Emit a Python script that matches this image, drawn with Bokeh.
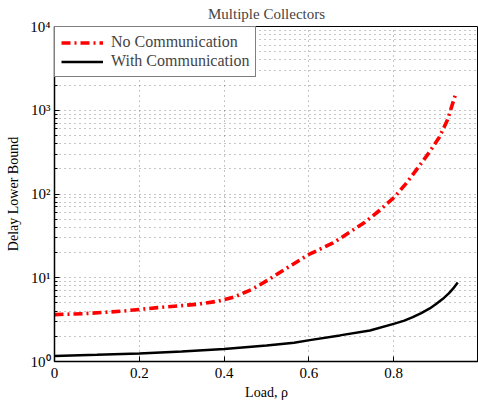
from bokeh.plotting import figure
from bokeh.models import FixedTicker, Legend, LegendItem, Range1d
from bokeh.embed import file_html
from bokeh.resources import INLINE

# data
load_nocomm = [0.0, 0.07, 0.157, 0.243, 0.337, 0.384, 0.424, 0.467, 0.502, 0.54, 0.6,
               0.657, 0.696, 0.732, 0.767, 0.802, 0.83, 0.857, 0.885, 0.908, 0.927, 0.947]
delay_nocomm = [3.63, 3.73, 3.98, 4.4, 4.82, 5.24, 5.9, 7.3, 9.3, 12.3, 19,
                26, 35, 46, 64, 92, 135, 205, 320, 480, 770, 1620]
load_comm = [0.0, 0.1, 0.2, 0.3, 0.4, 0.5, 0.565, 0.602, 0.673, 0.744, 0.802,
             0.825, 0.845, 0.865, 0.885, 0.9, 0.916, 0.93, 0.94, 0.951]
delay_comm = [1.16, 1.2, 1.25, 1.32, 1.41, 1.55, 1.67, 1.80, 2.05, 2.35, 2.83,
              3.08, 3.38, 3.78, 4.30, 4.85, 5.6, 6.5, 7.4, 8.8]
x_ticks = [0, 0.2, 0.4, 0.6, 0.8]
y_ticks = [1, 10, 100, 1000, 10000]
y_tick_labels = ["10⁰", "10¹", "10²", "10³", "10⁴"]
series_names = ["No Communication", "With Communication"]

FONT = "Liberation Serif"

p = figure(width=478, height=406, y_axis_type="log",
           x_range=Range1d(0, 1), y_range=Range1d(1, 10000),
           output_backend="svg", toolbar_location=None,
           title="Multiple Collectors",
           min_border_left=54, min_border_right=0, min_border_top=26, min_border_bottom=45)
p.title.align = "center"
p.title.vertical_align = "top"
p.title.text_font = FONT
p.title.text_font_size = "15px"
p.title.text_font_style = "normal"
p.title.offset = 0
p.title.standoff = 6

p.outline_line_color = "black"
p.outline_line_width = 1
p.background_fill_color = "white"
p.border_fill_color = "white"

minor = []
for k in range(4):
    for m in range(2, 10):
        minor.append(m * 10 ** k)

p.xaxis.ticker = FixedTicker(ticks=x_ticks)
p.yaxis.ticker = FixedTicker(ticks=y_ticks, minor_ticks=minor)
p.yaxis.major_label_overrides = {t: l for t, l in zip(y_ticks, y_tick_labels)}

for ax in (p.xaxis, p.yaxis):
    ax.axis_line_color = "black"
    ax.axis_line_width = 1.5
    ax.major_tick_in = 5
    ax.major_tick_out = 0
    ax.minor_tick_in = 3
    ax.minor_tick_out = 0
    ax.major_tick_line_color = "black"
    ax.minor_tick_line_color = "black"
    ax.major_label_text_font = FONT
    ax.major_label_text_font_size = "15px"
    ax.major_label_text_color = "black"
    ax.axis_label_text_font = FONT
    ax.axis_label_text_font_size = "14px"
    ax.axis_label_text_font_style = "normal"
    ax.axis_label_text_color = "black"
p.xaxis.minor_tick_line_color = None
p.xaxis.major_label_standoff = 6
p.yaxis.major_label_standoff = 4
p.xaxis.axis_label = "Load, ρ"
p.yaxis.axis_label = "Delay Lower Bound"
p.xaxis.axis_label_standoff = 4
p.yaxis.axis_label_standoff = 6

grid_col = "#000000"
p.xgrid.grid_line_color = grid_col
p.xgrid.grid_line_dash = "1 4"
p.xgrid.grid_line_alpha = 0.45
p.ygrid.grid_line_color = grid_col
p.ygrid.grid_line_dash = "1 4"
p.ygrid.grid_line_alpha = 0.45
p.ygrid.minor_grid_line_color = grid_col
p.ygrid.minor_grid_line_dash = "1 4"
p.ygrid.minor_grid_line_alpha = 0.45

r1 = p.line(load_nocomm, delay_nocomm, line_color="red", line_width=3.6,
            line_dash="9 4 2 4")
r2 = p.line(load_comm, delay_comm, line_color="black", line_width=2.5)

legend = Legend(items=[LegendItem(label=series_names[0], renderers=[r1]),
                       LegendItem(label=series_names[1], renderers=[r2])],
                location="top_left")
legend.margin = 0
legend.padding = 6
legend.spacing = 1
legend.border_line_color = "black"
legend.border_line_width = 1.5
legend.label_text_font = FONT
legend.label_text_font_size = "16px"
legend.label_height = 17
legend.glyph_width = 42
legend.glyph_height = 17
legend.label_standoff = 8
legend.background_fill_alpha = 1
p.add_layout(legend)

open("out.html", "w").write(file_html(p, INLINE))
